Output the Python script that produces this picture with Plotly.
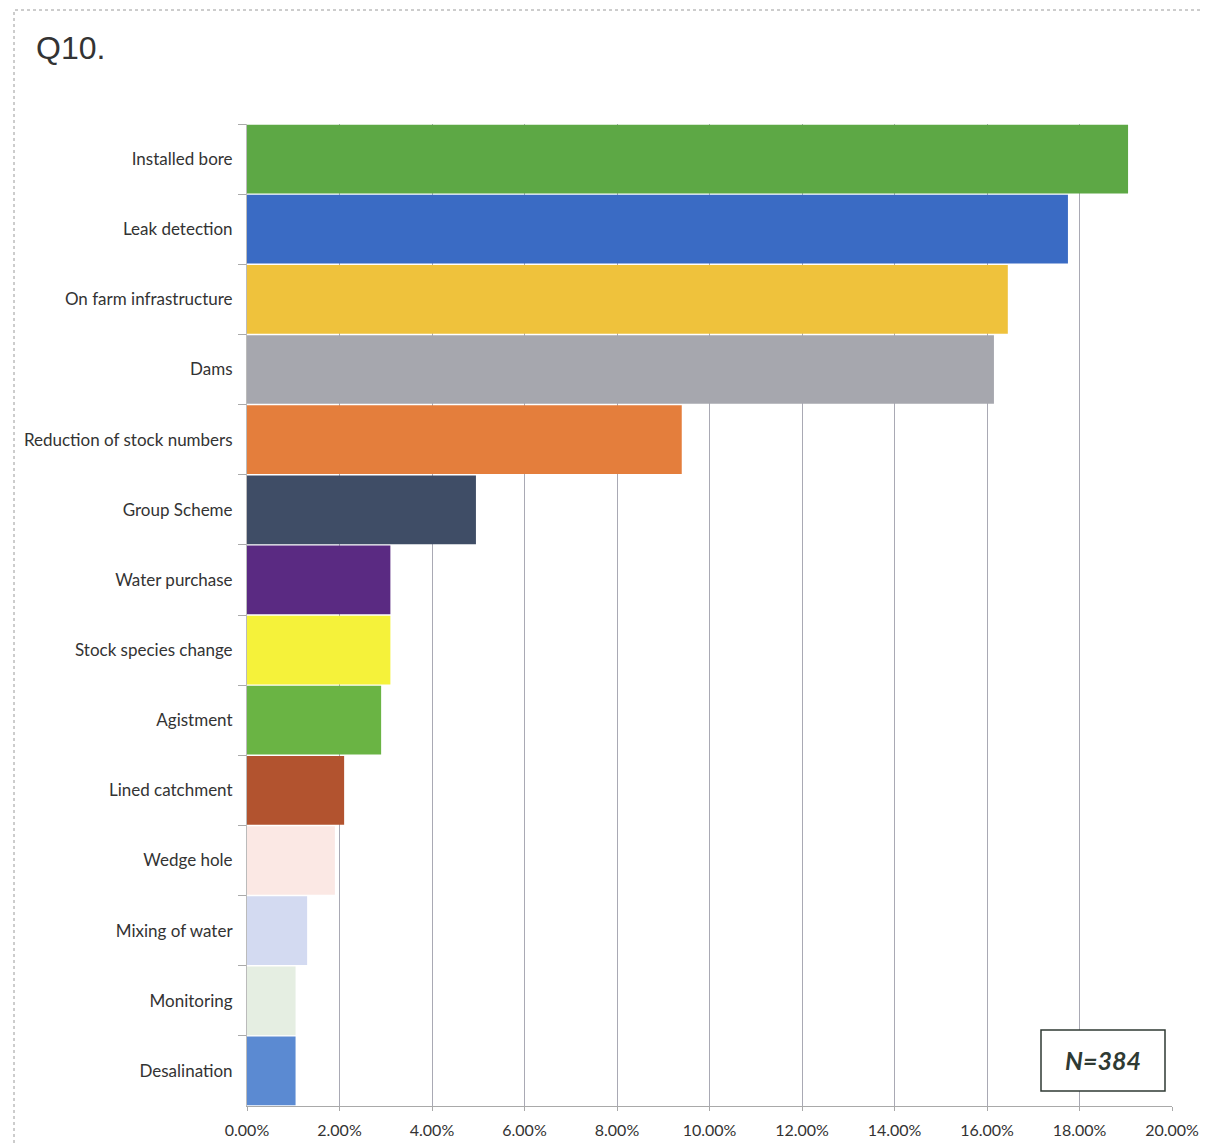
import plotly.graph_objects as go

categories = ["Installed bore", "Leak detection", "On farm infrastructure", "Dams",
              "Reduction of stock numbers", "Group Scheme", "Water purchase",
              "Stock species change", "Agistment", "Lined catchment", "Wedge hole",
              "Mixing of water", "Monitoring", "Desalination"]
values = [19.05, 17.75, 16.45, 16.15, 9.4, 4.95, 3.1, 3.1, 2.9, 2.1, 1.9, 1.3, 1.05, 1.05]
colors = ["#5DA845", "#3A6BC4", "#EFC23C", "#A6A7AE", "#E47E3C", "#3F4D66", "#5A2A82",
          "#F5F23A", "#6AB444", "#B2532F", "#FBE8E4", "#D3DAF1", "#E5EEE2", "#5B8AD2"]
x_ticks = [0, 2, 4, 6, 8, 10, 12, 14, 16, 18, 20]
title_text = "Q10."
n_text = "<b><i>N=384</i></b>"

OFF = 8  # browser body margin
W, H = 1211 - OFF, 1146 - OFF
L, T = 247 - OFF, 124 - OFF
R = W - (1172 - OFF)
B = H - (1106 - OFF)

fig = go.Figure(go.Bar(
    x=values, y=categories, orientation="h",
    marker=dict(color=colors, line=dict(width=0)),
    hoverinfo="x+y",
))

pw = W - L - R
ph = H - T - B

def px_x(x):
    return (x - OFF - L) / pw

def px_y(y):
    return (H - B - (y - OFF)) / ph

fig.update_layout(
    width=W, height=H,
    margin=dict(l=L, r=R, t=T, b=B, autoexpand=False),
    paper_bgcolor="white", plot_bgcolor="white",
    bargap=0.02,
    showlegend=False,
    font=dict(family="Lato, 'Open Sans', sans-serif", color="#333333", size=16),
    xaxis=dict(range=[0, 20], tickvals=x_ticks, ticktext=[f"{v:.2f}%" for v in x_ticks],
               showgrid=True, gridcolor="#A9A9B4", gridwidth=1,
               zeroline=False, showline=True, linecolor="#A9A9A9", linewidth=1,
               ticks="outside", ticklen=4, tickcolor="#A9A9A9",
               ticklabelstandoff=6, automargin=False,
               tickfont=dict(size=16, color="#333333"), fixedrange=True),
    yaxis=dict(autorange="reversed", showgrid=False, showline=True,
               linecolor="#BBBBBB", linewidth=1, automargin=False,
               ticks="outside", tickson="boundaries", ticklen=8, tickcolor="#AAAAAA",
               ticklabelstandoff=10,
               tickfont=dict(size=17, color="#333333"), fixedrange=True),
    shapes=[
        dict(type="rect", xref="paper", yref="paper",
             x0=px_x(14), x1=px_x(1230), y0=px_y(1170), y1=px_y(10),
             line=dict(color="#9A9A9A", width=1, dash="dot"), layer="below"),
        dict(type="rect", xref="paper", yref="paper",
             x0=px_x(1041), x1=px_x(1165), y0=px_y(1091), y1=px_y(1030),
             line=dict(color="#2F3A33", width=1.5), fillcolor="white", layer="above"),
    ],
    annotations=[
        dict(text=title_text, xref="paper", yref="paper", x=px_x(34), y=px_y(48),
             xanchor="left", yanchor="middle", showarrow=False,
             font=dict(family="Liberation Sans, Arial, sans-serif", size=32, color="#333333")),
        dict(text=n_text, xref="paper", yref="paper", x=px_x(1103), y=px_y(1060),
             xanchor="center", yanchor="middle", showarrow=False,
             font=dict(family="Lato, 'Open Sans', sans-serif", size=25, color="#2F3A33")),
    ],
)

fig.write_html("out.html")
